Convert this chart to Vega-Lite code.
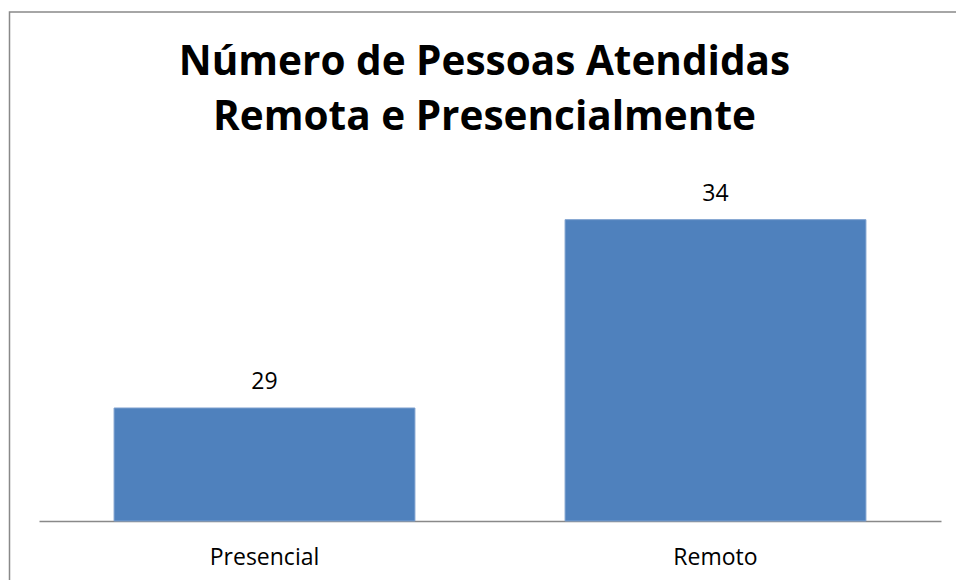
{
  "$schema": "https://vega.github.io/schema/vega-lite/v6.json",
  "autosize": {"type": "none"},
  "width": 950,
  "height": 575,
  "padding": {"left": 9.5, "top": 12, "right": 0, "bottom": 0},
  "background": "white",
  "config": {
    "view": {"stroke": "#898989", "strokeWidth": 1.5},
    "font": "Open Sans"
  },
  "title": {
    "text": ["Número de Pessoas Atendidas", "Remota e Presencialmente"],
    "font": "Open Sans",
    "fontSize": 40.5,
    "fontWeight": "bold",
    "color": "black",
    "lineHeight": 55,
    "anchor": "middle",
    "baseline": "top",
    "offset": -126
  },
  "data": {
    "values": [
      {"categoria": "Presencial", "pessoas": 29},
      {"categoria": "Remoto", "pessoas": 34}
    ]
  },
  "encoding": {
    "x": {
      "field": "categoria",
      "type": "nominal",
      "sort": null,
      "scale": {"range": [29.5, 931.5], "paddingInner": 0.333, "paddingOuter": 0.1665},
      "axis": {
        "orient": "bottom",
        "offset": -66,
        "title": null,
        "ticks": false,
        "tickSize": 0,
        "labelAngle": 0,
        "labelFont": "Open Sans",
        "labelFontSize": 23,
        "labelColor": "black",
        "labelPadding": 43,
        "labelBaseline": "alphabetic",
        "domainColor": "#898989",
        "domainWidth": 1.5,
        "grid": false
      }
    },
    "y": {
      "field": "pessoas",
      "type": "quantitative",
      "scale": {"domain": [26, 35], "range": [509, 170], "zero": false, "nice": false},
      "axis": null
    }
  },
  "layer": [
    {
      "mark": {"type": "bar", "color": "#4F81BD", "stroke": "#7C9FCE", "strokeWidth": 1},
      "encoding": {"y2": {"datum": 26}}
    },
    {
      "mark": {"type": "text", "baseline": "alphabetic", "dy": -19, "fontSize": 23, "font": "Open Sans", "color": "black"},
      "encoding": {"text": {"field": "pessoas", "type": "quantitative"}}
    }
  ]
}
